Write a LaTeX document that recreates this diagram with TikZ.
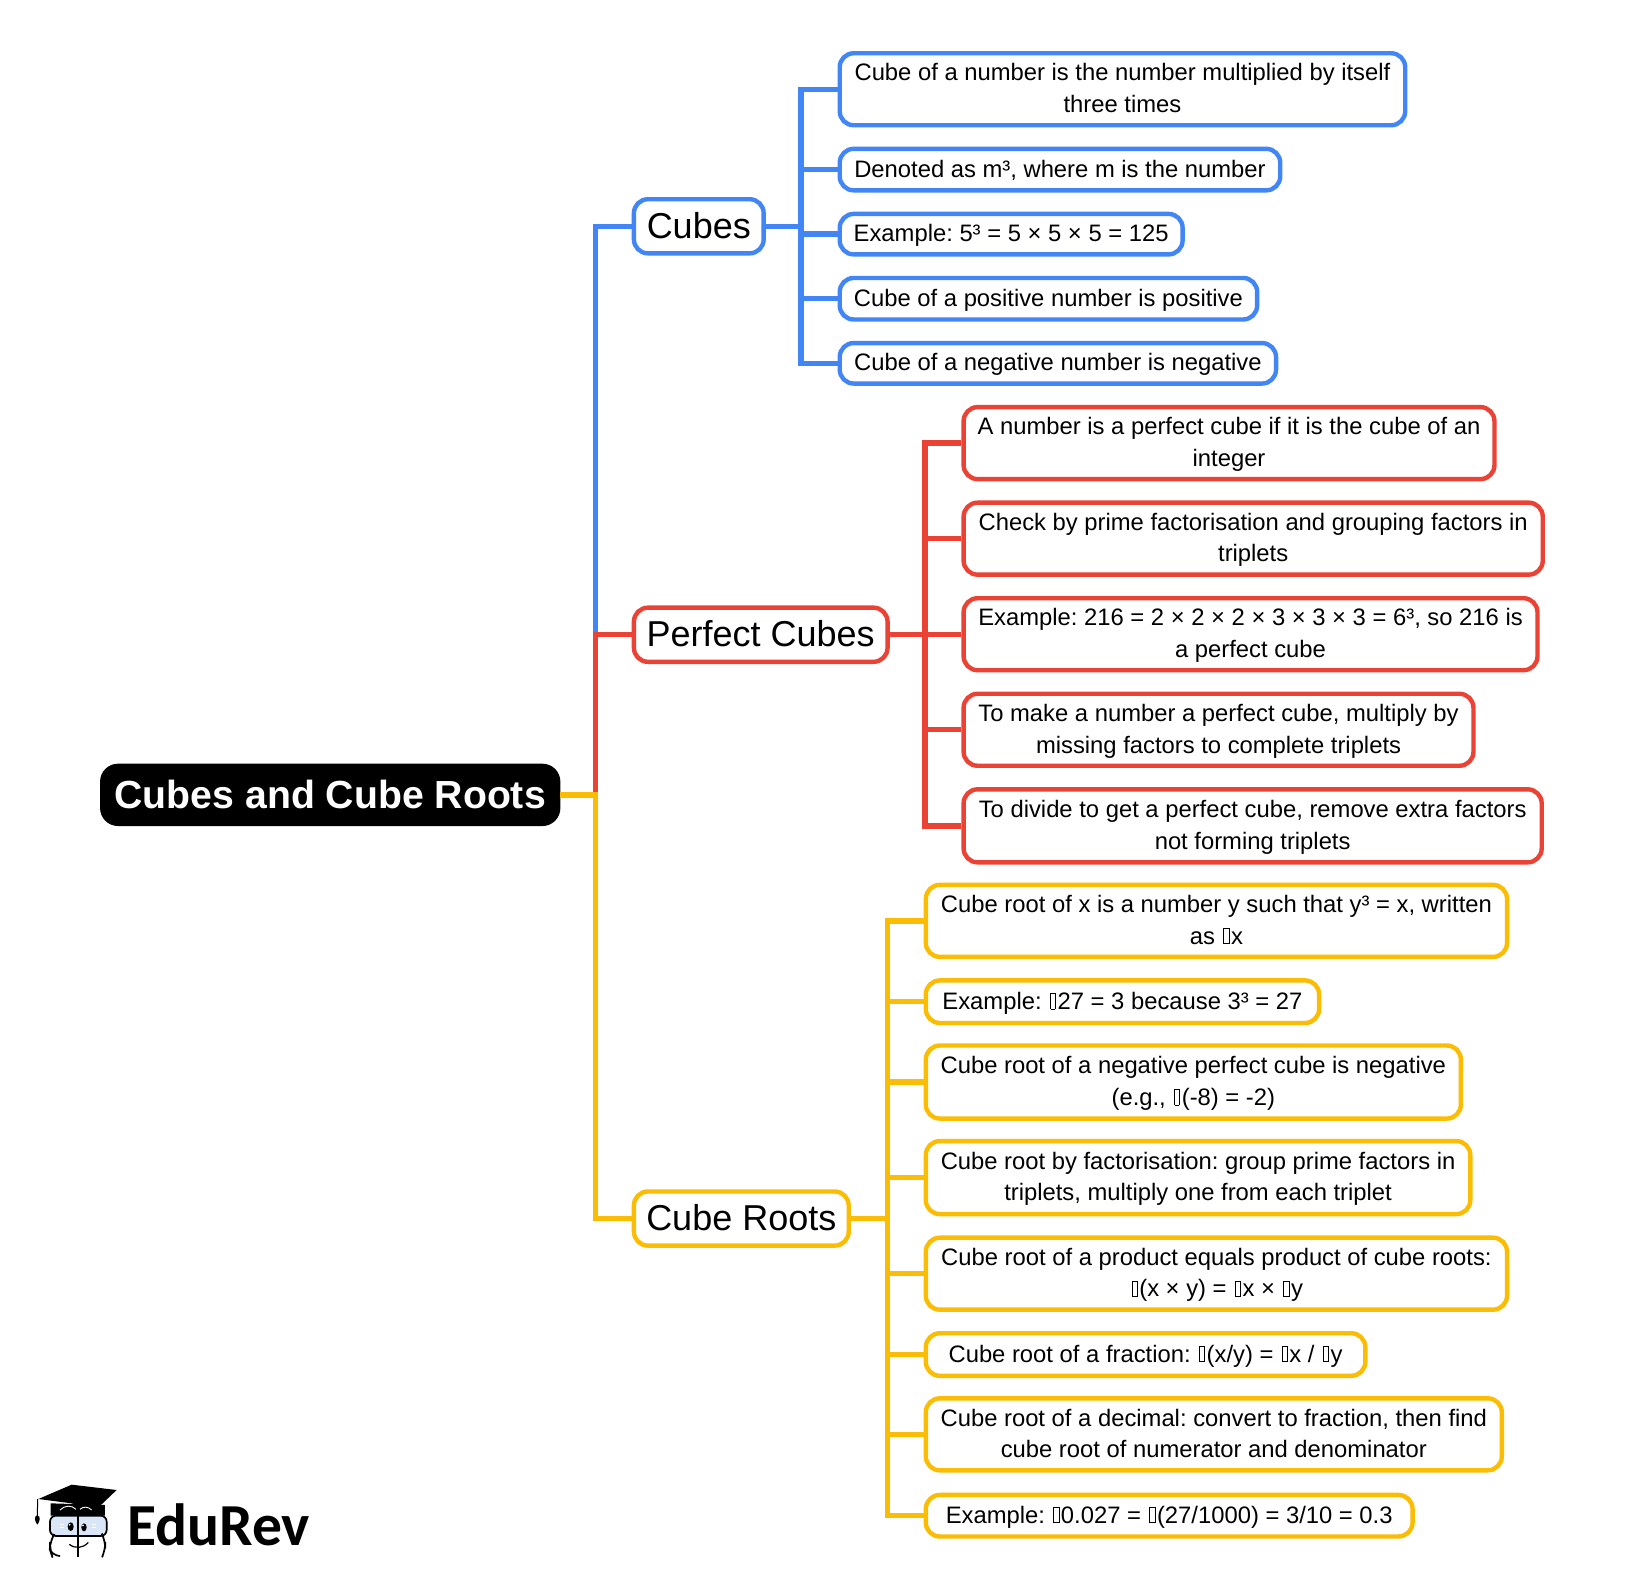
\documentclass[tikz,border=0pt]{standalone}
\usepackage{fontspec}
\setmainfont{Liberation Sans}
\newfontfamily\logofont{Carlito}
\frenchspacing
\definecolor{gblue}{HTML}{4285F4}
\definecolor{gred}{HTML}{EA4335}
\definecolor{gyellow}{HTML}{FBBC04}
\definecolor{bookblue}{HTML}{D8E6F8}
\newcommand\tofu{\kern1.7pt\hbox{\vrule width .7pt height 16pt depth 0pt\vbox to 16pt{\hrule width 4.6pt height .7pt\vfill\hrule width 4.6pt height .7pt}\vrule width .7pt height 16pt depth 0pt}\kern1.7pt}
\newcommand\boxnode[7]{\node[#2,minimum width={(#5-#3)*1.05pt-1.5pt},minimum height={(#6-#4)*1.05pt-1.5pt}] (#1) at ({(#3+#5)/2},{(#4+#6)/2}) {#7};}
\newcommand\leafnode[7]{\boxnode{#1}{#2}{#3}{#4}{#5}{#6}{\rule{0pt}{21pt}#7\rule[-6pt]{0pt}{6pt}}}
\newcommand\mainnode[7]{\boxnode{#1}{#2}{#3}{#4}{#5}{#6}{#7\rule[-2pt]{0pt}{2pt}}}
\tikzset{
  x=1.05pt,y=-1.05pt,
  base/.style={draw,line width=4.4pt,fill=white,rounded corners=14pt,inner sep=0pt,align=center,text=black,font=\fontsize{23.8}{31.6}\selectfont},
  leafb/.style={base,draw=gblue},
  leafr/.style={base,draw=gred},
  leafy/.style={base,draw=gyellow},
  mainb/.style={base,draw=gblue,font=\fontsize{36}{40}\selectfont},
  mainr/.style={base,draw=gred,font=\fontsize{36}{40}\selectfont},
  mainy/.style={base,draw=gyellow,font=\fontsize{36}{40}\selectfont},
  rootbox/.style={draw=black,line width=4pt,fill=black,rounded corners=16pt,inner sep=0pt,text=white,font=\fontsize{39.2}{42}\selectfont\bfseries},
  wb/.style={line width=5.4pt,draw=gblue},
  wr/.style={line width=5.4pt,draw=gred},
  wy/.style={line width=5.4pt,draw=gyellow},
}
\begin{document}
\begin{tikzpicture}
\useasboundingbox (0,0) rectangle (1568.57,1514.29);
\coordinate (tb) at (763,0);
\coordinate (tr) at (881,0);
\coordinate (ty) at (845,0);
\coordinate (hubx) at (567,0);
\boxnode{root}{rootbox}{96.5}{728.5}{532.5}{785.5}{Cubes and Cube Roots}
\mainnode{cubes}{mainb}{603}{189}{728}{242}{Cubes}
\mainnode{perfect}{mainr}{603}{578}{846}{631}{Perfect Cubes}
\mainnode{roots}{mainy}{603}{1134}{809}{1187}{Cube Roots}
\leafnode{b1}{leafb}{799}{50}{1339}{120}{Cube of a number is the number multiplied by itself\\three times}
\leafnode{b2}{leafb}{799}{141}{1220}{182}{Denoted as m³, where m is the number}
\leafnode{b3}{leafb}{799}{203}{1127}{243}{Example: 5³ = 5 × 5 × 5 = 125}
\leafnode{b4}{leafb}{799}{264}{1198}{305}{Cube of a positive number is positive}
\leafnode{b5}{leafb}{799}{326}{1216}{366}{Cube of a negative number is negative}
\leafnode{r1}{leafr}{917}{387}{1424}{457}{A number is a perfect cube if it is the cube of an\\integer}
\leafnode{r2}{leafr}{917}{478}{1470}{548}{Check by prime factorisation and grouping factors in\\triplets}
\leafnode{r3}{leafr}{917}{569}{1465}{639}{Example: 216 = 2 × 2 × 2 × 3 × 3 × 3 = 6³, so 216 is\\a perfect cube}
\leafnode{r4}{leafr}{917}{660}{1404}{730}{To make a number a perfect cube, multiply by\\missing factors to complete triplets}
\leafnode{r5}{leafr}{917}{751}{1469}{822}{To divide to get a perfect cube, remove extra factors\\not forming triplets}
\leafnode{y1}{leafy}{881}{842}{1436}{912}{Cube root of x is a number y such that y³ = x, written\\as \tofu x}
\leafnode{y2}{leafy}{881}{933}{1257}{975}{Example: \tofu 27 = 3 because 3³ = 27}
\leafnode{y3}{leafy}{881}{995}{1392}{1066}{Cube root of a negative perfect cube is negative\\(e.g., \tofu(-8) = -2)}
\leafnode{y4}{leafy}{881}{1086}{1401}{1157}{Cube root by factorisation: group prime factors in\\triplets, multiply one from each triplet}
\leafnode{y5}{leafy}{881}{1178}{1436}{1248}{Cube root of a product equals product of cube roots:\\\tofu(x × y) = \tofu x × \tofu y}
\leafnode{y6}{leafy}{881}{1269}{1301}{1311}{Cube root of a fraction: \tofu(x/y) = \tofu x / \tofu y}
\leafnode{y7}{leafy}{881}{1331}{1431}{1401}{Cube root of a decimal: convert to fraction, then find\\cube root of numerator and denominator}
\leafnode{y8}{leafy}{881}{1423}{1346}{1464}{Example: \tofu 0.027 = \tofu(27/1000) = 3/10 = 0.3}
\draw[wb] (root.east -| hubx) |- (cubes.west);
\draw[wr] (root.east -| hubx) |- (perfect.west);
\draw[wy] (root.east) -- (root.east -| hubx) |- (roots.west);
\draw[wb] (cubes.east) -- (cubes.east -| tb);
\draw[wr] (perfect.east) -- (perfect.east -| tr);
\draw[wy] (roots.east) -- (roots.east -| ty);
\foreach \n in {b1,b2,b3,b4,b5} \draw[wb] (cubes.east -| tb) |- (\n.west);
\foreach \n in {r1,r2,r3,r4,r5} \draw[wr] (perfect.east -| tr) |- (\n.west);
\foreach \n in {y1,y2,y3,y4,y5,y6,y7,y8} \draw[wy] (roots.east -| ty) |- (\n.west);
% logo, in units of the 3x crop at (0,1450)
\begin{scope}[x=.3333pt,y=-.3333pt,shift={(0pt,-1450pt)}]
\draw[line width=1.7pt,fill=bookblue,rounded corners=6pt] (150,197) rectangle (320,258);
\draw[line width=1.7pt,rounded corners=8pt] (178,318) -- (156,318) -- (150,300) -- (150,272) -- (158,260);
\draw[line width=1.7pt,rounded corners=8pt] (308,318) -- (316,300) -- (316,272) -- (310,260);
\draw[line width=1.7pt] (235,195) -- (235,320);
\fill (152,160) -- (315,165) -- (315,197) -- (152,197) -- cycle;
\fill (115,147) -- (215,104) -- (350,120) -- (285,182) -- (215,160) -- cycle;
\draw[line width=1pt] (113,147) -- (112,198);
\fill (112,195) .. controls (100,200) and (105,215) .. (112,224) .. controls (119,215) and (124,200) .. (112,195) -- cycle;
\draw[white,line width=.9pt] (180,180) .. controls (195,165) and (215,165) .. (228,178);
\draw[white,line width=.9pt] (240,178) .. controls (250,168) and (265,170) .. (275,180);
\fill (212,230) ellipse [x radius=9,y radius=13];
\fill (252,232) ellipse [x radius=8,y radius=12];
\fill[white] (209,224) circle [radius=3];
\fill[white] (249,226) circle [radius=3];
\draw[white,line width=.8pt] (180,224) -- (192,224) (180,232) -- (192,232) (275,224) -- (287,224) (275,232) -- (287,232);
\draw[line width=1.2pt] (208,283) .. controls (225,297) and (250,295) .. (265,277);
\end{scope}
\node[inner sep=0pt,anchor=base west,font=\logofont\bfseries\fontsize{59.6}{62}\selectfont] (logotext) at (121,1472) {EduRev};
\end{tikzpicture}
\end{document}
